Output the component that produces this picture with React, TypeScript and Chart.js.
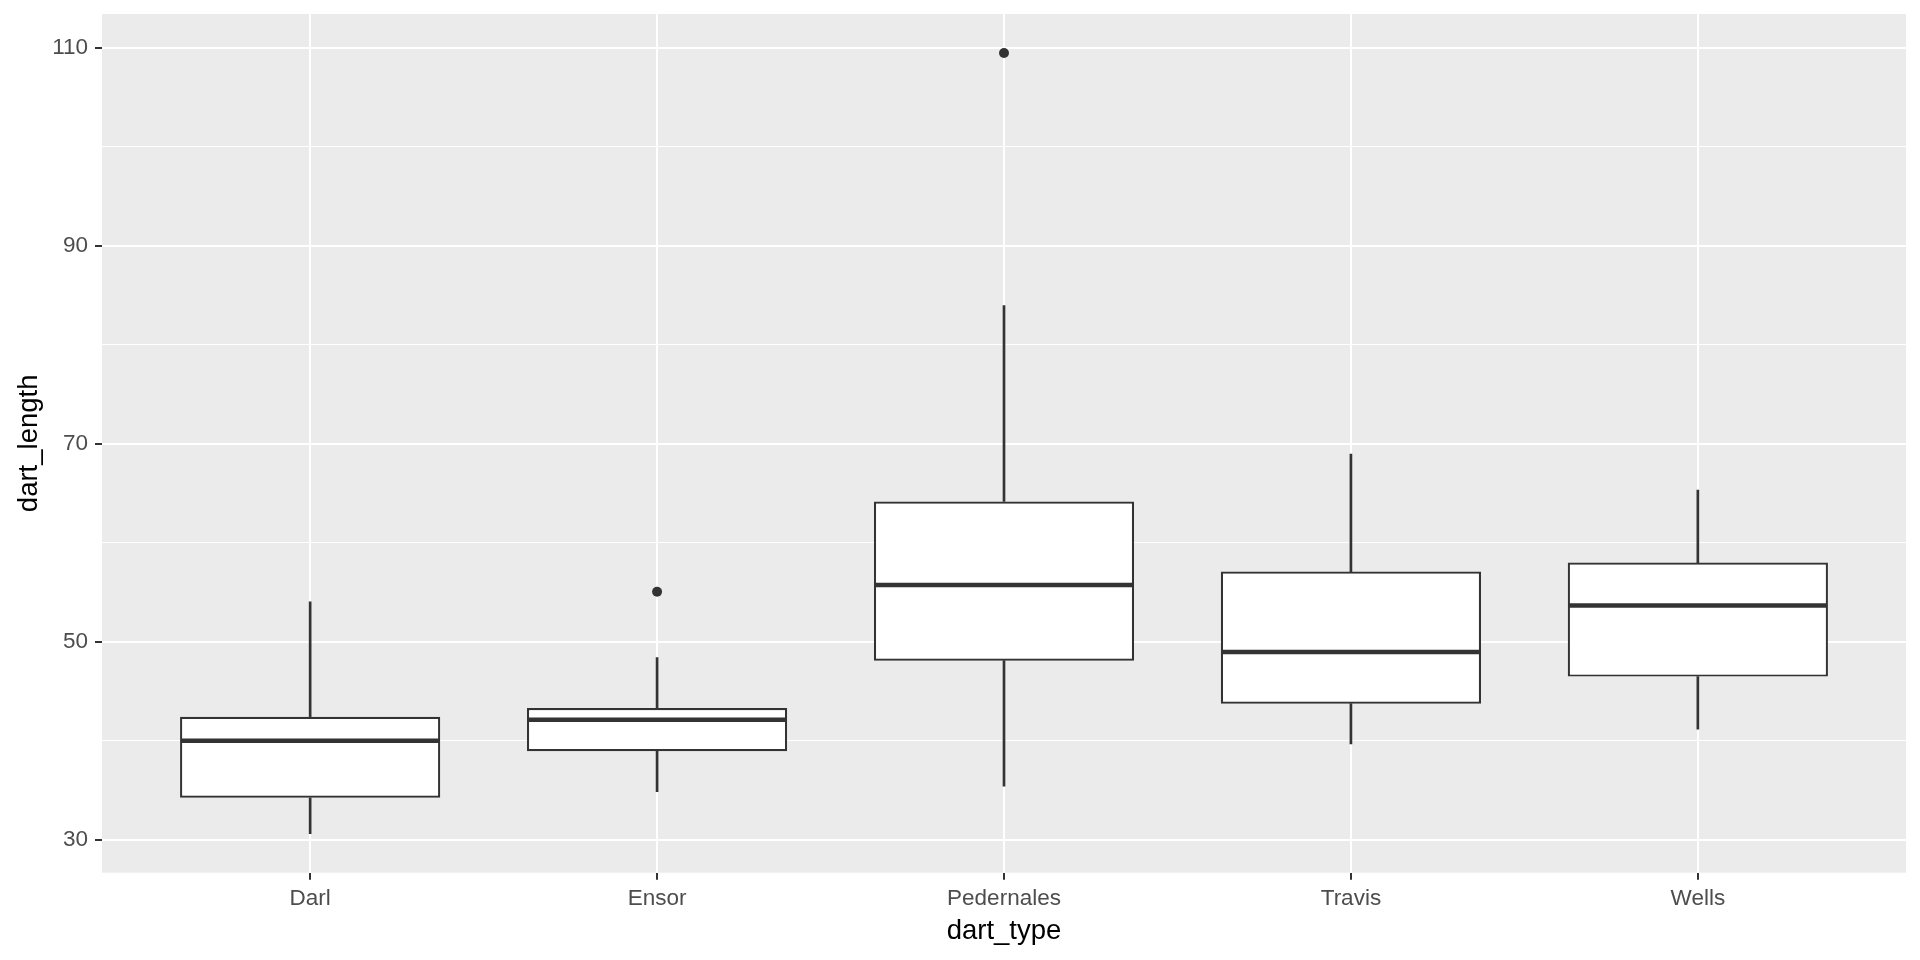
import React, { useEffect, useRef } from "react";
import { Chart, registerables } from "chart.js";

Chart.register(...registerables);

// ---- Data ----
const categories = ["Darl", "Ensor", "Pedernales", "Travis", "Wells"];
const whiskerLow = [30.64, 34.87, 35.44, 39.7, 41.18];
const q1 = [34.26, 38.96, 48.11, 43.77, 46.5];
const median = [40.03, 42.15, 55.76, 48.99, 53.67];
const q3 = [42.45, 43.32, 64.18, 57.1, 58.01];
const whiskerHigh = [54.06, 48.42, 83.96, 68.96, 65.32];
const outlierCategory = [1, 2];
const outlierValue = [55.07, 109.46];
const yGridValues = [30, 40, 50, 60, 70, 80, 90, 100, 110];
const yLabelValues = [30, 50, 70, 90, 110];

const xTitle = "dart_type";
const yTitle = "dart_length";

const FONT = "'Liberation Sans', Arial, Helvetica, sans-serif";
const DARK = "#333333";
const BOX_WIDTH = 0.75;

const panelBg = {
  id: "panelBg",
  beforeDraw(chart: any) {
    const { ctx, chartArea } = chart;
    ctx.save();
    ctx.fillStyle = "#EBEBEB";
    ctx.fillRect(chartArea.left, chartArea.top, chartArea.right - chartArea.left, chartArea.bottom - chartArea.top);
    ctx.restore();
  },
};

const medianLines = {
  id: "medianLines",
  afterDatasetsDraw(chart: any) {
    const { ctx } = chart;
    const xs = chart.scales.x;
    const ys = chart.scales.y;
    ctx.save();
    ctx.strokeStyle = DARK;
    ctx.lineWidth = 4.5;
    ctx.lineCap = "butt";
    median.forEach((m, i) => {
      const x1 = xs.getPixelForValue(i - BOX_WIDTH / 2);
      const x2 = xs.getPixelForValue(i + BOX_WIDTH / 2);
      const y = ys.getPixelForValue(m);
      ctx.beginPath();
      ctx.moveTo(x1 + 1, y);
      ctx.lineTo(x2 - 1, y);
      ctx.stroke();
    });
    ctx.restore();
  },
};

export default function App() {
  const ref = useRef<HTMLCanvasElement | null>(null);

  useEffect(() => {
    if (!ref.current) return;
    const chart = new Chart(ref.current, {
      type: "bar",
      data: {
        datasets: [
          {
            type: "scatter",
            label: "outliers",
            data: outlierCategory.map((c, i) => ({ x: c, y: outlierValue[i] })),
            pointRadius: 5,
            pointBackgroundColor: DARK,
            pointBorderWidth: 0,
            order: 0,
          } as any,
          {
            type: "bar",
            label: "box",
            data: categories.map((_, i) => ({ x: i, y: [q1[i], q3[i]] })),
            backgroundColor: "#FFFFFF",
            borderColor: DARK,
            borderWidth: 2.2,
            borderSkipped: false,
            barPercentage: BOX_WIDTH,
            categoryPercentage: 1,
            grouped: false,
            order: 1,
          } as any,
          {
            type: "bar",
            label: "upper whisker",
            data: categories.map((_, i) => ({ x: i, y: [q3[i], whiskerHigh[i]] })),
            backgroundColor: DARK,
            borderWidth: 0,
            barThickness: 2,
            grouped: false,
            order: 2,
          } as any,
          {
            type: "bar",
            label: "lower whisker",
            data: categories.map((_, i) => ({ x: i, y: [whiskerLow[i], q1[i]] })),
            backgroundColor: DARK,
            borderWidth: 0,
            barThickness: 2,
            grouped: false,
            order: 2,
          } as any,
        ],
      },
      options: {
        responsive: false,
        animation: false,
        devicePixelRatio: 1,
        layout: { padding: { top: 14, right: 14, left: 0, bottom: 0 } },
        plugins: {
          legend: { display: false },
          tooltip: { enabled: false },
          title: { display: false },
        },
        scales: {
          x: {
            type: "linear",
            offset: false,
            min: -0.6,
            max: categories.length - 1 + 0.6,
            afterBuildTicks: (s: any) => {
              s.ticks = categories.map((_, i) => ({ value: i }));
            },
            afterFit: (s: any) => {
              s.height = 87.3;
              s.paddingLeft = 0;
              s.paddingRight = 0;
            },
            ticks: {
              callback: (v: any) => categories[v] ?? "",
              color: "#4D4D4D",
              font: { family: FONT, size: 22.5 },
              padding: 6,
              autoSkip: false,
              maxRotation: 0,
              minRotation: 0,
            },
            grid: {
              offset: false,
              color: "#FFFFFF",
              lineWidth: 2,
              tickLength: 7,
              tickColor: DARK,
              tickWidth: 2,
            },
            border: { display: false },
            title: {
              display: true,
              text: xTitle,
              color: "#000000",
              font: { family: FONT, size: 27.5 },
              padding: { top: 0, bottom: 12.5 },
            },
          },
          y: {
            type: "linear",
            min: 26.7,
            max: 113.4,
            afterBuildTicks: (s: any) => {
              s.ticks = yGridValues.map((v) => ({ value: v }));
            },
            afterFit: (s: any) => {
              s.width = 102;
              s.paddingTop = 0;
              s.paddingBottom = 0;
            },
            ticks: {
              callback: (v: any) => (yLabelValues.includes(v) ? String(v) : ""),
              color: "#4D4D4D",
              font: { family: FONT, size: 22.5 },
              padding: 7,
              autoSkip: false,
            },
            grid: {
              color: "#FFFFFF",
              lineWidth: (c: any) => (yLabelValues.includes(c.tick?.value) ? 2 : 1),
              tickLength: 7,
              tickColor: (c: any) => (yLabelValues.includes(c.tick?.value) ? DARK : "rgba(0,0,0,0)"),
              tickWidth: 2,
            },
            border: { display: false },
            title: {
              display: true,
              text: yTitle,
              color: "#000000",
              font: { family: FONT, size: 27.5 },
              padding: { top: 12.5, bottom: 0 },
            },
          },
        },
      } as any,
      plugins: [panelBg, medianLines],
    });
    return () => chart.destroy();
  }, []);

  return (
    <div style={{ position: "fixed", left: 0, top: 0, width: 1920, height: 960, background: "#FFFFFF" }}>
      <canvas ref={ref} width={1920} height={960} style={{ display: "block", width: 1920, height: 960 }} />
    </div>
  );
}
